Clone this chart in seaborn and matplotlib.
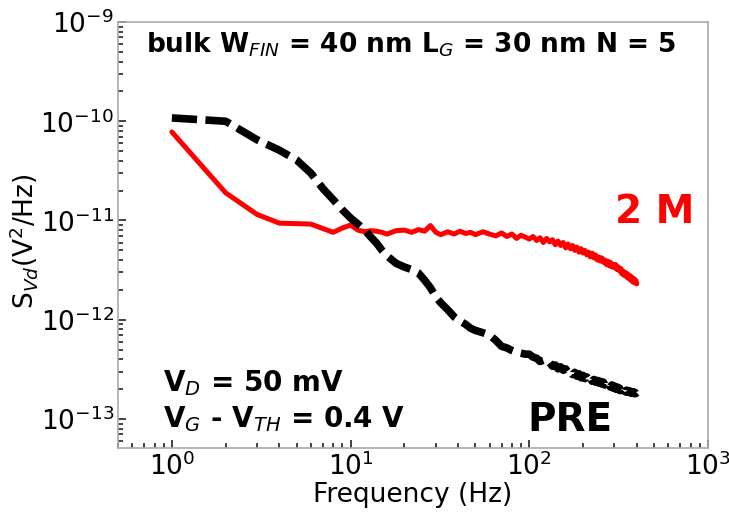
import matplotlib
matplotlib.use("Agg")
import matplotlib.pyplot as plt
import seaborn as sns
from matplotlib.ticker import LogLocator, NullFormatter

# Frequency bins (Hz)
freq = [1, 2, 3, 4, 5, 6, 7, 8, 9, 10, 11, 12, 13, 14, 15, 16,
        18, 20, 22, 24, 26, 28, 30, 32, 35, 38, 41, 44, 47, 50,
        55, 60, 65, 70, 75, 80, 85, 90, 95,
        100, 105, 110, 115, 120, 125, 130, 135, 140, 145,
        150, 155, 160, 165, 170, 175, 180, 185, 190, 195,
        200, 205, 210, 215, 220, 225, 230, 235, 240, 245,
        250, 255, 260, 265, 270, 275, 280, 285, 290, 295,
        300, 305, 310, 315, 320, 325, 330, 335, 340, 345,
        350, 355, 360, 365, 370, 375, 380, 385, 390, 395, 400]

# Drain-voltage noise spectral density after 2 M cycles (V^2/Hz)
svd_2m = [7.8e-11, 1.9e-11, 1.15e-11, 9.4e-12, 9.3e-12, 9.2e-12, 8.3e-12, 7.6e-12,
          8.4e-12, 9.0e-12, 8.0e-12, 7.7e-12, 7.9e-12, 7.8e-12, 7.6e-12, 7.3e-12,
          7.9e-12, 8.0e-12, 7.6e-12, 8.1e-12, 7.8e-12, 8.9e-12, 7.6e-12, 7.2e-12,
          7.7e-12, 7.3e-12, 7.8e-12, 7.4e-12, 7.6e-12, 7.2e-12,
          7.7e-12, 7.3e-12, 7.0e-12, 7.5e-12, 6.9e-12, 7.3e-12, 6.6e-12, 7.1e-12,
          6.8e-12,
          6.5e-12, 6.9e-12, 6.3e-12, 6.7e-12, 6.0e-12, 6.6e-12, 6.1e-12, 6.4e-12,
          5.7e-12, 6.2e-12,
          5.6e-12, 6.0e-12, 5.3e-12, 5.8e-12, 5.2e-12, 5.6e-12, 5.0e-12, 5.4e-12,
          4.8e-12, 5.2e-12,
          4.7e-12, 5.0e-12, 4.5e-12, 4.8e-12, 4.3e-12, 4.7e-12, 4.2e-12, 4.5e-12,
          4.0e-12, 4.3e-12,
          3.9e-12, 4.2e-12, 3.8e-12, 4.0e-12, 3.6e-12, 3.9e-12, 3.5e-12, 3.8e-12,
          3.4e-12, 3.6e-12,
          3.35e-12, 3.6e-12, 3.2e-12, 3.4e-12, 3.1e-12, 3.3e-12, 2.9e-12, 3.1e-12,
          2.8e-12, 3.0e-12,
          2.7e-12, 2.9e-12, 2.6e-12, 2.8e-12, 2.5e-12, 2.7e-12, 2.4e-12, 2.6e-12,
          2.35e-12, 2.5e-12, 2.3e-12]

# Drain-voltage noise spectral density of the pristine device (V^2/Hz)
svd_pre = [1.08e-10, 1.0e-10, 6.5e-11, 5.1e-11, 4.06e-11, 3.0e-11, 2.1e-11, 1.62e-11,
           1.28e-11, 1.06e-11, 9.2e-12, 8.0e-12, 6.8e-12, 5.9e-12, 5.0e-12, 4.4e-12,
           3.7e-12, 3.4e-12, 3.2e-12, 2.95e-12, 2.5e-12, 2.1e-12, 1.7e-12, 1.48e-12,
           1.26e-12, 1.07e-12, 9.7e-13, 9.0e-13, 8.2e-13, 7.8e-13,
           7.4e-13, 7.0e-13, 6.2e-13, 5.4e-13, 5.2e-13, 4.9e-13, 4.7e-13, 4.6e-13,
           4.5e-13,
           4.5e-13, 4.2e-13, 4.1e-13, 3.8e-13, 3.9e-13, 3.6e-13, 3.7e-13, 3.4e-13,
           3.5e-13, 3.2e-13,
           3.35e-13, 3.1e-13, 3.2e-13, 2.95e-13, 3.05e-13, 2.8e-13, 2.95e-13, 2.7e-13,
           2.85e-13, 2.6e-13,
           2.75e-13, 2.55e-13, 2.65e-13, 2.45e-13, 2.6e-13, 2.4e-13, 2.5e-13, 2.35e-13,
           2.45e-13, 2.3e-13,
           2.4e-13, 2.25e-13, 2.35e-13, 2.2e-13, 2.3e-13, 2.15e-13, 2.25e-13, 2.1e-13,
           2.2e-13, 2.05e-13,
           2.15e-13, 2.0e-13, 2.1e-13, 1.97e-13, 2.05e-13, 1.93e-13, 2.02e-13, 1.9e-13,
           1.98e-13, 1.88e-13,
           1.95e-13, 1.86e-13, 1.93e-13, 1.84e-13, 1.9e-13, 1.82e-13, 1.88e-13, 1.8e-13,
           1.86e-13, 1.8e-13, 1.84e-13]

sns.set_style("white")
plt.rcParams["font.family"] = ["DejaVu Sans"]
plt.rcParams["mathtext.fontset"] = "dejavusans"
plt.rcParams["text.color"] = "black"
plt.rcParams["axes.labelcolor"] = "black"
plt.rcParams["xtick.labelcolor"] = "black"
plt.rcParams["ytick.labelcolor"] = "black"

fig, ax = plt.subplots(figsize=(7.29, 5.12), dpi=100)
fig.subplots_adjust(left=0.162, right=0.971, bottom=0.125, top=0.957)

sns.lineplot(x=freq, y=svd_2m, color="#ff0000", linewidth=3.6, ax=ax)
sns.lineplot(x=freq, y=svd_pre, color="black", linewidth=5.5, ax=ax)
ax.lines[-1].set_dashes([3.3, 1.1])
for ln in ax.lines:
    ln.set_solid_joinstyle("round")
    ln.set_dash_joinstyle("round")

ax.set_xscale("log")
ax.set_yscale("log")
ax.set_xlim(0.5, 1000)
ax.set_ylim(5.1e-14, 1e-9)

ax.xaxis.set_major_locator(LogLocator(base=10, numticks=10))
ax.xaxis.set_minor_locator(LogLocator(base=10, subs=range(2, 10), numticks=20))
ax.yaxis.set_major_locator(LogLocator(base=10, numticks=10))
ax.yaxis.set_minor_locator(LogLocator(base=10, subs=range(2, 10), numticks=20))
ax.xaxis.set_minor_formatter(NullFormatter())
ax.yaxis.set_minor_formatter(NullFormatter())

ax.tick_params(which="both", direction="in", bottom=True, left=True,
               top=False, right=False, color="#222222", width=1.2)
ax.tick_params(which="major", length=6, labelsize=19, pad=3)
ax.tick_params(which="minor", length=3.5)
for sp in ax.spines.values():
    sp.set_color("#aaaaaa")
    sp.set_linewidth(1.2)

ax.set_xlabel("Frequency (Hz)", fontsize=19, labelpad=1)
ax.set_ylabel("S$_{Vd}$(V$^2$/Hz)", fontsize=19)
ax.yaxis.set_label_coords(-0.132, 0.486)

ax.text(0.497, 0.946, "bulk W$_{FIN}$ = 40 nm L$_G$ = 30 nm N = 5",
        transform=ax.transAxes, ha="center", va="center",
        fontsize=19, fontweight="bold")
ax.text(0.076, 0.152, "V$_D$ = 50 mV", transform=ax.transAxes,
        ha="left", va="center", fontsize=20, fontweight="bold")
ax.text(0.076, 0.068, "V$_G$ - V$_{TH}$ = 0.4 V", transform=ax.transAxes,
        ha="left", va="center", fontsize=20, fontweight="bold")
ax.text(0.766, 0.066, "PRE", transform=ax.transAxes, ha="center",
        va="center", fontsize=28, fontweight="bold", color="black")
ax.text(0.91, 0.555, "2 M", transform=ax.transAxes, ha="center",
        va="center", fontsize=28, fontweight="bold", color="#ff0000")

fig.savefig("out.png", dpi=100)
